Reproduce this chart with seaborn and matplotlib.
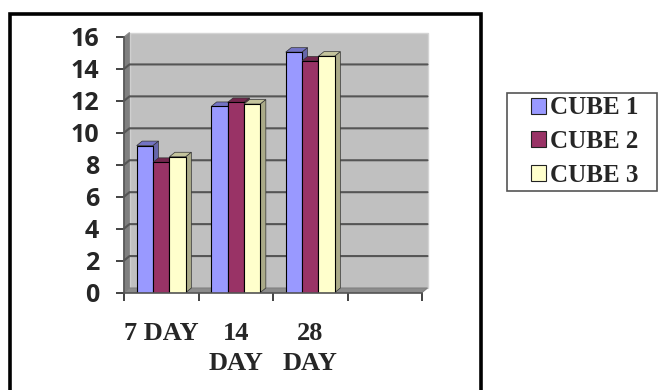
import pandas as pd
import matplotlib
matplotlib.use("Agg")
import matplotlib.pyplot as plt
from matplotlib.patches import Polygon, Rectangle
import seaborn as sns

days = ["7 DAY", "14\nDAY", "28\nDAY"]
blank_slots = [""]
cube_names = ["CUBE 1", "CUBE 2", "CUBE 3"]
cube_1 = [9.2, 11.65, 15.05]
cube_2 = [8.15, 11.9, 14.5]
cube_3 = [8.5, 11.8, 14.8]
y_ticks = [0, 2, 4, 6, 8, 10, 12, 14, 16]

front_colors = ["#9999FF", "#993366", "#FFFFCC"]
top_colors = ["#7373C4", "#73264D", "#C4C49C"]
side_colors = ["#6666AA", "#662244", "#AAAA88"]

df = pd.DataFrame({
    "day": days * 3,
    "cube": [c for c in cube_names for _ in days],
    "value": cube_1 + cube_2 + cube_3,
})

sns.set_style("white")
W, H = 658, 390
fig = plt.figure(figsize=(W / 100, H / 100), dpi=100)

# plot area in pixels
left, right, top, bottom = 124, 422, 37, 292.5
ax = fig.add_axes([left / W, 1 - bottom / H, (right - left) / W, (bottom - top) / H])

sns.barplot(data=df, x="day", y="value", hue="cube", order=days + blank_slots,
            hue_order=cube_names, palette=front_colors, width=0.66, gap=0,
            saturation=1, edgecolor="black", linewidth=0.8, ax=ax, legend=False)
ax.set_xlim(-0.5, 3.5)
ax.set_ylim(0, 16)
ax.set_xlabel("")
ax.set_ylabel("")

# 3d depth in data units
dx = 5.5 / ((right - left) / 4)
dy = 4.5 / ((bottom - top) / 16)
x0, x1 = -0.5, 3.5

ax.add_patch(Rectangle((x0 + dx, dy), x1 - x0, 16, fc="#C0C0C0", ec="#D4D4D4", lw=1, zorder=0.5, clip_on=False))
ax.add_patch(Polygon([(x0, 0), (x0 + dx, dy), (x0 + dx, 16 + dy), (x0, 16)],
                     fc="#808080", ec="#8A8A8A", lw=0.8, zorder=0.6, clip_on=False))
ax.add_patch(Polygon([(x0, 0), (x0 + dx, dy), (x1 + dx, dy), (x1, 0)],
                     fc="#8C8C8C", ec="#808080", lw=0.8, zorder=0.6, clip_on=False))
for t in y_ticks[1:-1]:
    ax.plot([x0, x0 + dx, x1 + dx], [t, t + dy, t + dy], color="#555555", lw=1.5,
            zorder=0.8, clip_on=False, solid_joinstyle="miter")

for i, cont in enumerate(ax.containers):
    for bar in cont:
        bx, bw, bh = bar.get_x(), bar.get_width(), bar.get_height()
        if not bh > 0:
            continue
        z = 2 + i * 0.2
        ax.add_patch(Polygon([(bx, bh), (bx + dx, bh + dy), (bx + bw + dx, bh + dy), (bx + bw, bh)],
                             fc=top_colors[i], ec="#333333", lw=0.5, zorder=z, clip_on=False))
        ax.add_patch(Polygon([(bx + bw, 0), (bx + bw + dx, dy), (bx + bw + dx, bh + dy), (bx + bw, bh)],
                             fc=side_colors[i], ec="#333333", lw=0.5, zorder=z, clip_on=False))
        bar.set_zorder(z + 0.1)

# axes lines and ticks
sns.despine(ax=ax)
ax.spines["left"].set_color("#555555")
ax.spines["bottom"].set_color("#555555")
ax.spines["left"].set_linewidth(1.2)
ax.spines["bottom"].set_linewidth(1.2)
ax.set_yticks(y_ticks)
ax.set_yticklabels([str(t) for t in y_ticks], fontsize=18, fontweight="bold", family="Open Sans")
ax.tick_params(axis="y", which="major", left=True, length=6, width=1.2, color="#222222", pad=12)
ax.set_xticks([-0.5, 0.5, 1.5, 2.5, 3.5])
ax.set_xticklabels([])
ax.set_xticks([0, 1, 2], minor=True)
ax.set_xticklabels(days, minor=True, fontsize=19, fontweight="bold", family="Liberation Serif",
                   linespacing=1.38)
ax.tick_params(axis="x", which="major", bottom=True, length=6, width=1.2, color="#222222")
ax.tick_params(axis="x", which="minor", bottom=False, length=0, pad=21)

handles = [Rectangle((0, 0), 1, 1, fc=c, ec="#222222", lw=0.8) for c in front_colors]
leg = fig.legend(handles, cube_names, loc="center left", bbox_to_anchor=(531 / W, 1 - 141.5 / H),
                 bbox_transform=fig.transFigure, borderaxespad=0, borderpad=0, frameon=False,
                 handlelength=0.6, handleheight=0.6, handletextpad=0.18, labelspacing=0.42,
                 prop={"family": "Liberation Serif", "weight": "bold", "size": 18})

# legend box, runs to the right edge of the image
fig.add_artist(Rectangle((506.5 / W, 1 - 191 / H), 150 / W, 98 / H, transform=fig.transFigure,
                         fill=False, ec="#555555", lw=1.2))

# outer chart border, runs off the bottom of the image
fig.add_artist(Rectangle((10 / W, -0.05), 471 / W, 1.05 - 14 / H, transform=fig.transFigure,
                         fill=False, ec="black", lw=2.6))

fig.savefig("out.png", dpi=100)
